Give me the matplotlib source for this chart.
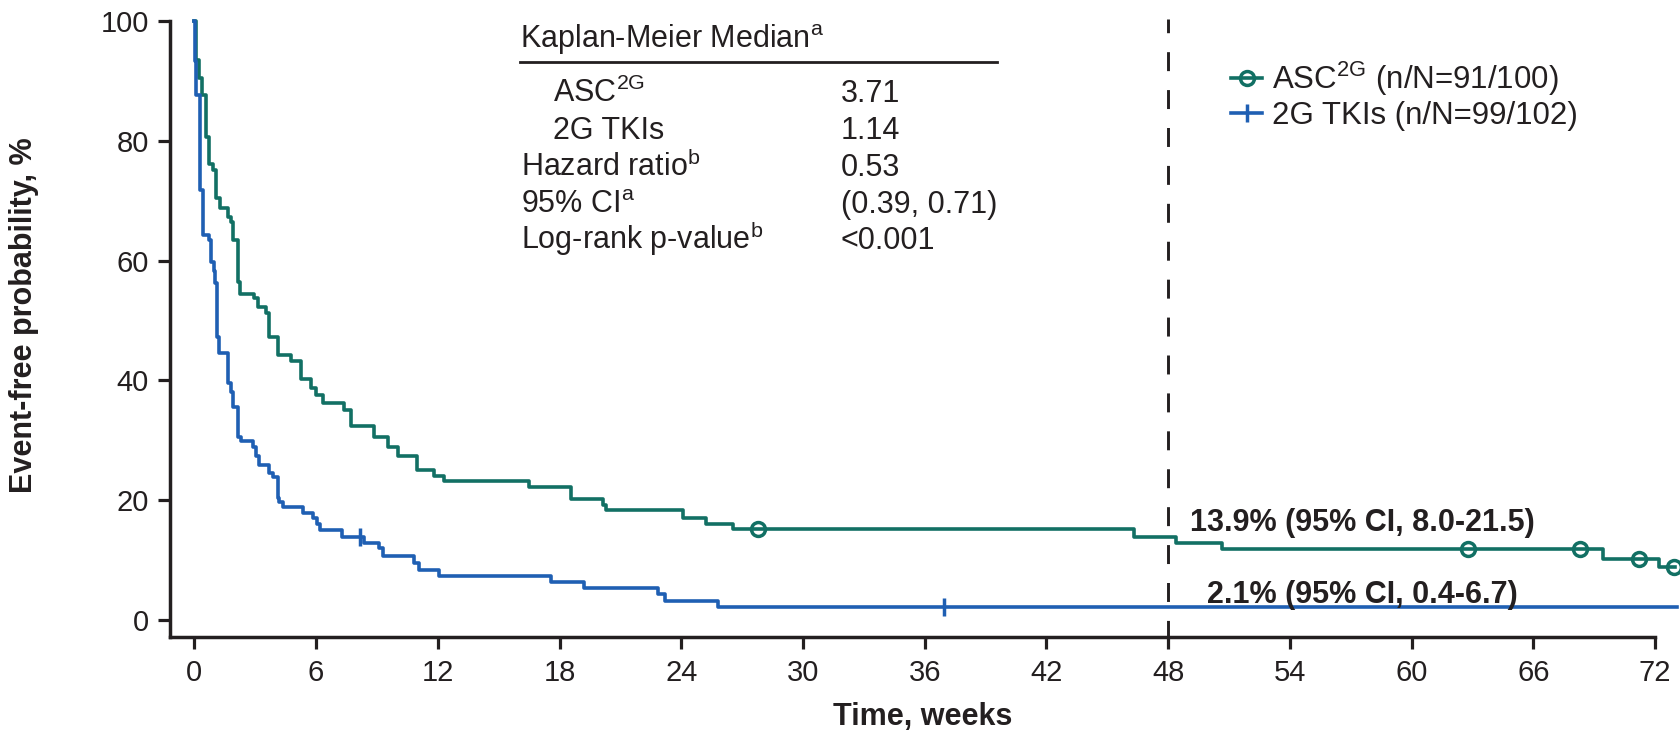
import numpy as np
import matplotlib.pyplot as plt
from matplotlib.lines import Line2D

plt.rcParams['font.family'] = ['Liberation Sans', 'DejaVu Sans']
plt.rcParams['mathtext.fontset'] = 'custom'
plt.rcParams['mathtext.rm'] = 'Liberation Sans'
plt.rcParams['mathtext.it'] = 'Liberation Sans:italic'
plt.rcParams['mathtext.bf'] = 'Liberation Sans:bold'

# ---- Kaplan-Meier step data (weeks, event-free %) ----
asc_times = [0.08, 0.25, 0.38, 0.58, 0.74, 0.90, 1.07, 1.28, 1.64, 1.81, 1.92, 2.14,
             2.27, 2.96, 3.12, 3.53, 3.70, 4.11, 4.77, 5.26, 5.75, 6.02, 6.33, 7.40,
             7.73, 8.88, 9.53, 10.03, 10.97, 11.80, 12.33, 16.52, 18.57, 20.13, 20.30,
             24.08, 25.20, 26.55, 46.30, 48.40, 50.65, 69.45, 72.20]
asc_surv = [93.5, 90.4, 87.6, 80.7, 76.2, 75.1, 70.4, 68.7, 67.3, 66.5, 63.4, 56.5,
            54.5, 53.7, 52.3, 51.2, 47.3, 44.2, 43.3, 40.3, 38.7, 37.6, 36.3, 35.1,
            32.3, 30.6, 28.9, 27.4, 25.1, 24.1, 23.2, 22.2, 20.2, 19.2, 18.3,
            17.1, 16.1, 15.2, 13.9, 12.9, 11.8, 10.2, 8.9]
asc_last = 73.0
asc_censored = [27.8, 62.8, 68.3, 71.2, 72.93]

tki_times = [0.02, 0.07, 0.30, 0.43, 0.71, 0.82, 0.95, 1.00, 1.10, 1.23, 1.68, 1.81,
             1.92, 2.17, 2.30, 2.88, 3.04, 3.21, 3.70, 3.86, 4.11, 4.19, 4.39, 5.37,
             5.87, 6.03, 6.20, 7.28, 8.38, 9.09, 9.29, 10.85, 11.05, 12.05, 17.59,
             19.20, 22.85, 23.18, 25.80]
tki_surv = [93.4, 87.6, 71.8, 64.3, 63.4, 59.8, 58.2, 56.2, 47.3, 44.5, 39.6, 38.1,
            35.6, 30.6, 29.8, 28.9, 27.3, 25.9, 24.5, 23.9, 20.3, 19.7, 18.9, 17.8,
            17.0, 16.1, 15.0, 13.8, 12.8, 12.0, 10.6, 9.5, 8.3, 7.4, 6.3,
            5.3, 4.4, 3.2, 2.1]
tki_last = 73.1
tki_censored = [8.17, 36.93]

legend_labels = [r'ASC$^{\rm 2G}$ (n/N=91/100)', '2G TKIs (n/N=99/102)']
landmark_week = 48
landmark_labels = ['13.9% (95% CI, 8.0-21.5)', '2.1% (95% CI, 0.4-6.7)']

table_header = r'Kaplan-Meier Median$^{\rm a}$'
table_rows = [r'ASC$^{\rm 2G}$', '2G TKIs', r'Hazard ratio$^{\rm b}$',
              r'95% CI$^{\rm a}$', r'Log-rank p-value$^{\rm b}$']
table_values = ['3.71', '1.14', '0.53', '(0.39, 0.71)', '<0.001']
table_indent = [True, True, False, False, False]

x_ticks = np.arange(0, 73, 6)
y_ticks = np.arange(0, 101, 20)

GREEN = '#127064'
BLUE = '#1f5fb3'
INK = '#231f20'
FS = 22
LW = 2.6


def km_xy(times, surv, last):
    x = np.r_[0.0, times, last]
    y = np.r_[100.0, surv, surv[-1]]
    return x, y


def km_value(times, surv, at):
    idx = np.searchsorted(times, at, side='right')
    return np.r_[100.0, surv][idx]


W, H = 1680, 734
fig = plt.figure(figsize=(W / 100, H / 100), dpi=100)
ax = fig.add_axes([170 / W, 1 - 636.7 / H, 1485 / W, 615.7 / H])

x, y = km_xy(asc_times, asc_surv, asc_last)
ax.step(x, y, where='post', color=GREEN, lw=LW, clip_on=False, zorder=3)
ax.plot(asc_censored, km_value(asc_times, asc_surv, asc_censored), 'o', ms=10,
        mfc='none', mec=GREEN, mew=2.5, clip_on=False, zorder=4)

x, y = km_xy(tki_times, tki_surv, tki_last)
ax.step(x, y, where='post', color=BLUE, lw=LW, clip_on=False, zorder=3)
ax.plot(tki_censored, km_value(tki_times, tki_surv, tki_censored), '|', ms=13,
        mec=BLUE, mew=2.5, clip_on=False, zorder=4)

# 48-week landmark
ax.plot([landmark_week, landmark_week], [100.35, -2.8], color=INK, lw=2.1,
        ls=(1.8, (6.5, 6.5)), clip_on=False, zorder=2)
ax.text(57.6, 14.8, landmark_labels[0], ha='center', va='baseline',
        fontsize=FS, fontweight='bold', color=INK)
ax.text(57.6, 2.8, landmark_labels[1], ha='center', va='baseline',
        fontsize=FS, fontweight='bold', color=INK)

ax.set_xlim(-1.2, 72)
ax.set_ylim(-2.8, 100)
ax.set_xticks(x_ticks)
ax.set_yticks(y_ticks)
ax.tick_params(labelsize=21, length=8.6, width=2.3, colors=INK)
ax.tick_params(axis='y', pad=6.5)
ax.tick_params(axis='x', pad=7.5)
for side in ['top', 'right']:
    ax.spines[side].set_visible(False)
for side in ['left', 'bottom']:
    ax.spines[side].set_linewidth(2.5)
    ax.spines[side].set_color(INK)

ax.set_xlabel('Time, weeks', fontsize=FS, fontweight='bold', color=INK)
ax.xaxis.set_label_coords((923 - 170) / 1485, (636.7 - 702) / 615.7)
ax.set_ylabel('Event-free probability, %', fontsize=FS, fontweight='bold', color=INK)
ax.yaxis.set_label_coords((39 - 170) / 1485, (636.7 - 315) / 615.7)

handles = [Line2D([], [], color=GREEN, lw=LW, marker='o', ms=10, mfc='none', mew=2.5),
           Line2D([], [], color=BLUE, lw=LW, marker='|', ms=13, mew=2.5)]
fig.legend(handles, legend_labels, loc='upper left', bbox_to_anchor=(1231 / W, 1 - 60 / H),
           frameon=False, fontsize=22.5, handlelength=1.0, handletextpad=0.3,
           labelspacing=0.08, borderpad=0, borderaxespad=0, labelcolor=INK)

# summary table
fig.text(520 / W, 1 - 48.3 / H, table_header, fontsize=FS, color=INK, va='baseline')
fig.add_artist(Line2D([520 / W, 996.7 / W], [1 - 61.7 / H] * 2, lw=2, color=INK))
for i, (lab, val, ind) in enumerate(zip(table_rows, table_values, table_indent)):
    yb = 1 - (102.5 + 36.7 * i) / H
    fig.text((552.7 if ind else 520.7) / W, yb, lab, fontsize=FS, color=INK, va='baseline')
    fig.text(840.7 / W, yb, val, fontsize=FS, color=INK, va='baseline')

fig.savefig('out.png', dpi=100)
